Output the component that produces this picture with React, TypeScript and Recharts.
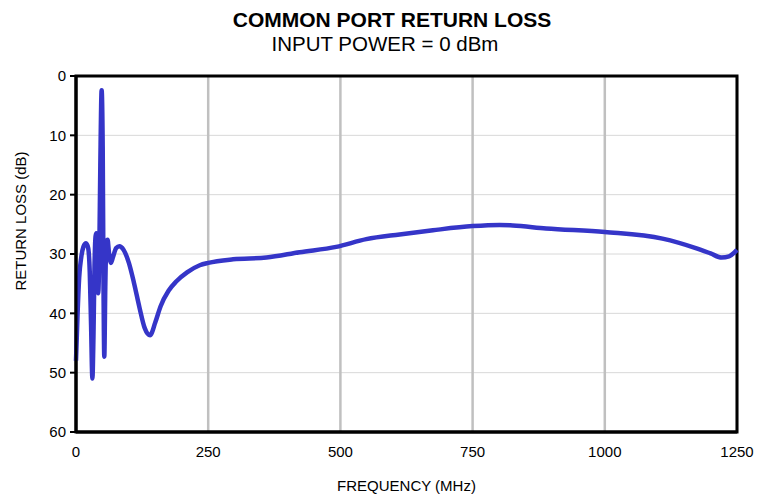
import { LineChart, Line, XAxis, YAxis, CartesianGrid, ReferenceArea } from "recharts";

const freqs: number[] = [
  0, 3, 6, 10, 14, 19, 23, 26, 28.5, 31, 33, 35, 37, 38.5, 40, 42, 44, 46,
  48.5, 50.5, 52, 53.5, 55.5, 57.5, 59.8, 62, 66, 70, 76, 82, 90, 100, 110,
  120, 130, 140, 150, 160, 175, 190, 210, 234, 250, 297, 360, 423, 492, 549,
  612, 675, 750, 801, 826, 889, 1000, 1109, 1172, 1200, 1221, 1235, 1250,
];

const returnLoss: number[] = [
  48, 40, 34, 30.5, 28.8, 28.2, 29, 33, 42, 51, 44, 32, 27, 26.5, 30, 36.6,
  30, 15, 2.4, 12, 35, 47.3, 35, 28, 27.6, 29.5, 31.5, 30.5, 29, 28.7, 29.3,
  31.5, 35, 39, 42.5, 43.7, 41.5, 38.8, 36.2, 34.6, 33.1, 31.9, 31.5, 30.9,
  30.6, 29.7, 28.8, 27.5, 26.7, 26.0, 25.3, 25.1, 25.2, 25.7, 26.3, 27.4,
  29.0, 29.9, 30.6, 30.4, 29.3,
];

const xTicks: number[] = [0, 250, 500, 750, 1000, 1250];
const yTicks: number[] = [0, 10, 20, 30, 40, 50, 60];

const data = freqs.map((f, i) => ({ freq: f, rl: returnLoss[i] }));

const FONT = "'Liberation Sans', Arial, sans-serif";

export default function App() {
  return (
    <div style={{ position: "relative", width: 754, height: 488, fontFamily: FONT }}>
      <div
        style={{
          position: "absolute",
          left: 0,
          width: 768,
          top: 0,
          textAlign: "center",
          fontWeight: "bold",
          fontSize: 21,
          color: "#000",
        }}
      >
        COMMON PORT RETURN LOSS
      </div>
      <div
        style={{
          position: "absolute",
          left: 0,
          width: 754,
          top: 24,
          textAlign: "center",
          fontSize: 20.5,
          color: "#000",
        }}
      >
        INPUT POWER = 0 dBm
      </div>
      <LineChart
        width={754}
        height={480}
        data={data}
        margin={{ top: 68, right: 25, bottom: 0, left: 0 }}
      >
        <CartesianGrid horizontal={true} vertical={false} stroke="#d8d8d8" strokeWidth={1} />
        <CartesianGrid horizontal={false} vertical={true} stroke="#c0c0c0" strokeWidth={2.5} />
        <XAxis
          dataKey="freq"
          type="number"
          domain={[0, 1250]}
          ticks={xTicks}
          tickLine={false}
          axisLine={{ stroke: "#000", strokeWidth: 3 }}
          tick={{ fill: "#000", fontSize: 15, fontFamily: FONT }}
          tickMargin={8}
          height={56}
        />
        <YAxis
          type="number"
          reversed
          domain={[0, 60]}
          ticks={yTicks}
          width={68}
          tickSize={6}
          tickLine={{ stroke: "#000", strokeWidth: 2 }}
          axisLine={{ stroke: "#000", strokeWidth: 3 }}
          tick={{ fill: "#000", fontSize: 15, fontFamily: FONT }}
          tickMargin={4}
        />
        <ReferenceArea
          x1={0}
          x2={1250}
          y1={0}
          y2={60}
          fill="none"
          stroke="#000"
          strokeWidth={3}
          fillOpacity={0}
        />
        <Line
          type="monotone"
          dataKey="rl"
          stroke="#3535c8"
          strokeWidth={4.5}
          dot={false}
          isAnimationActive={false}
        />
      </LineChart>
      <div
        style={{
          position: "absolute",
          left: 0,
          width: 797,
          top: 469,
          textAlign: "center",
          fontSize: 15,
          color: "#000",
        }}
      >
        FREQUENCY (MHz)
      </div>
      <div
        style={{
          position: "absolute",
          left: 14 - 100,
          top: 213 - 10,
          width: 200,
          height: 20,
          textAlign: "center",
          fontSize: 15,
          color: "#000",
          transform: "rotate(-90deg)",
        }}
      >
        RETURN LOSS (dB)
      </div>
    </div>
  );
}
